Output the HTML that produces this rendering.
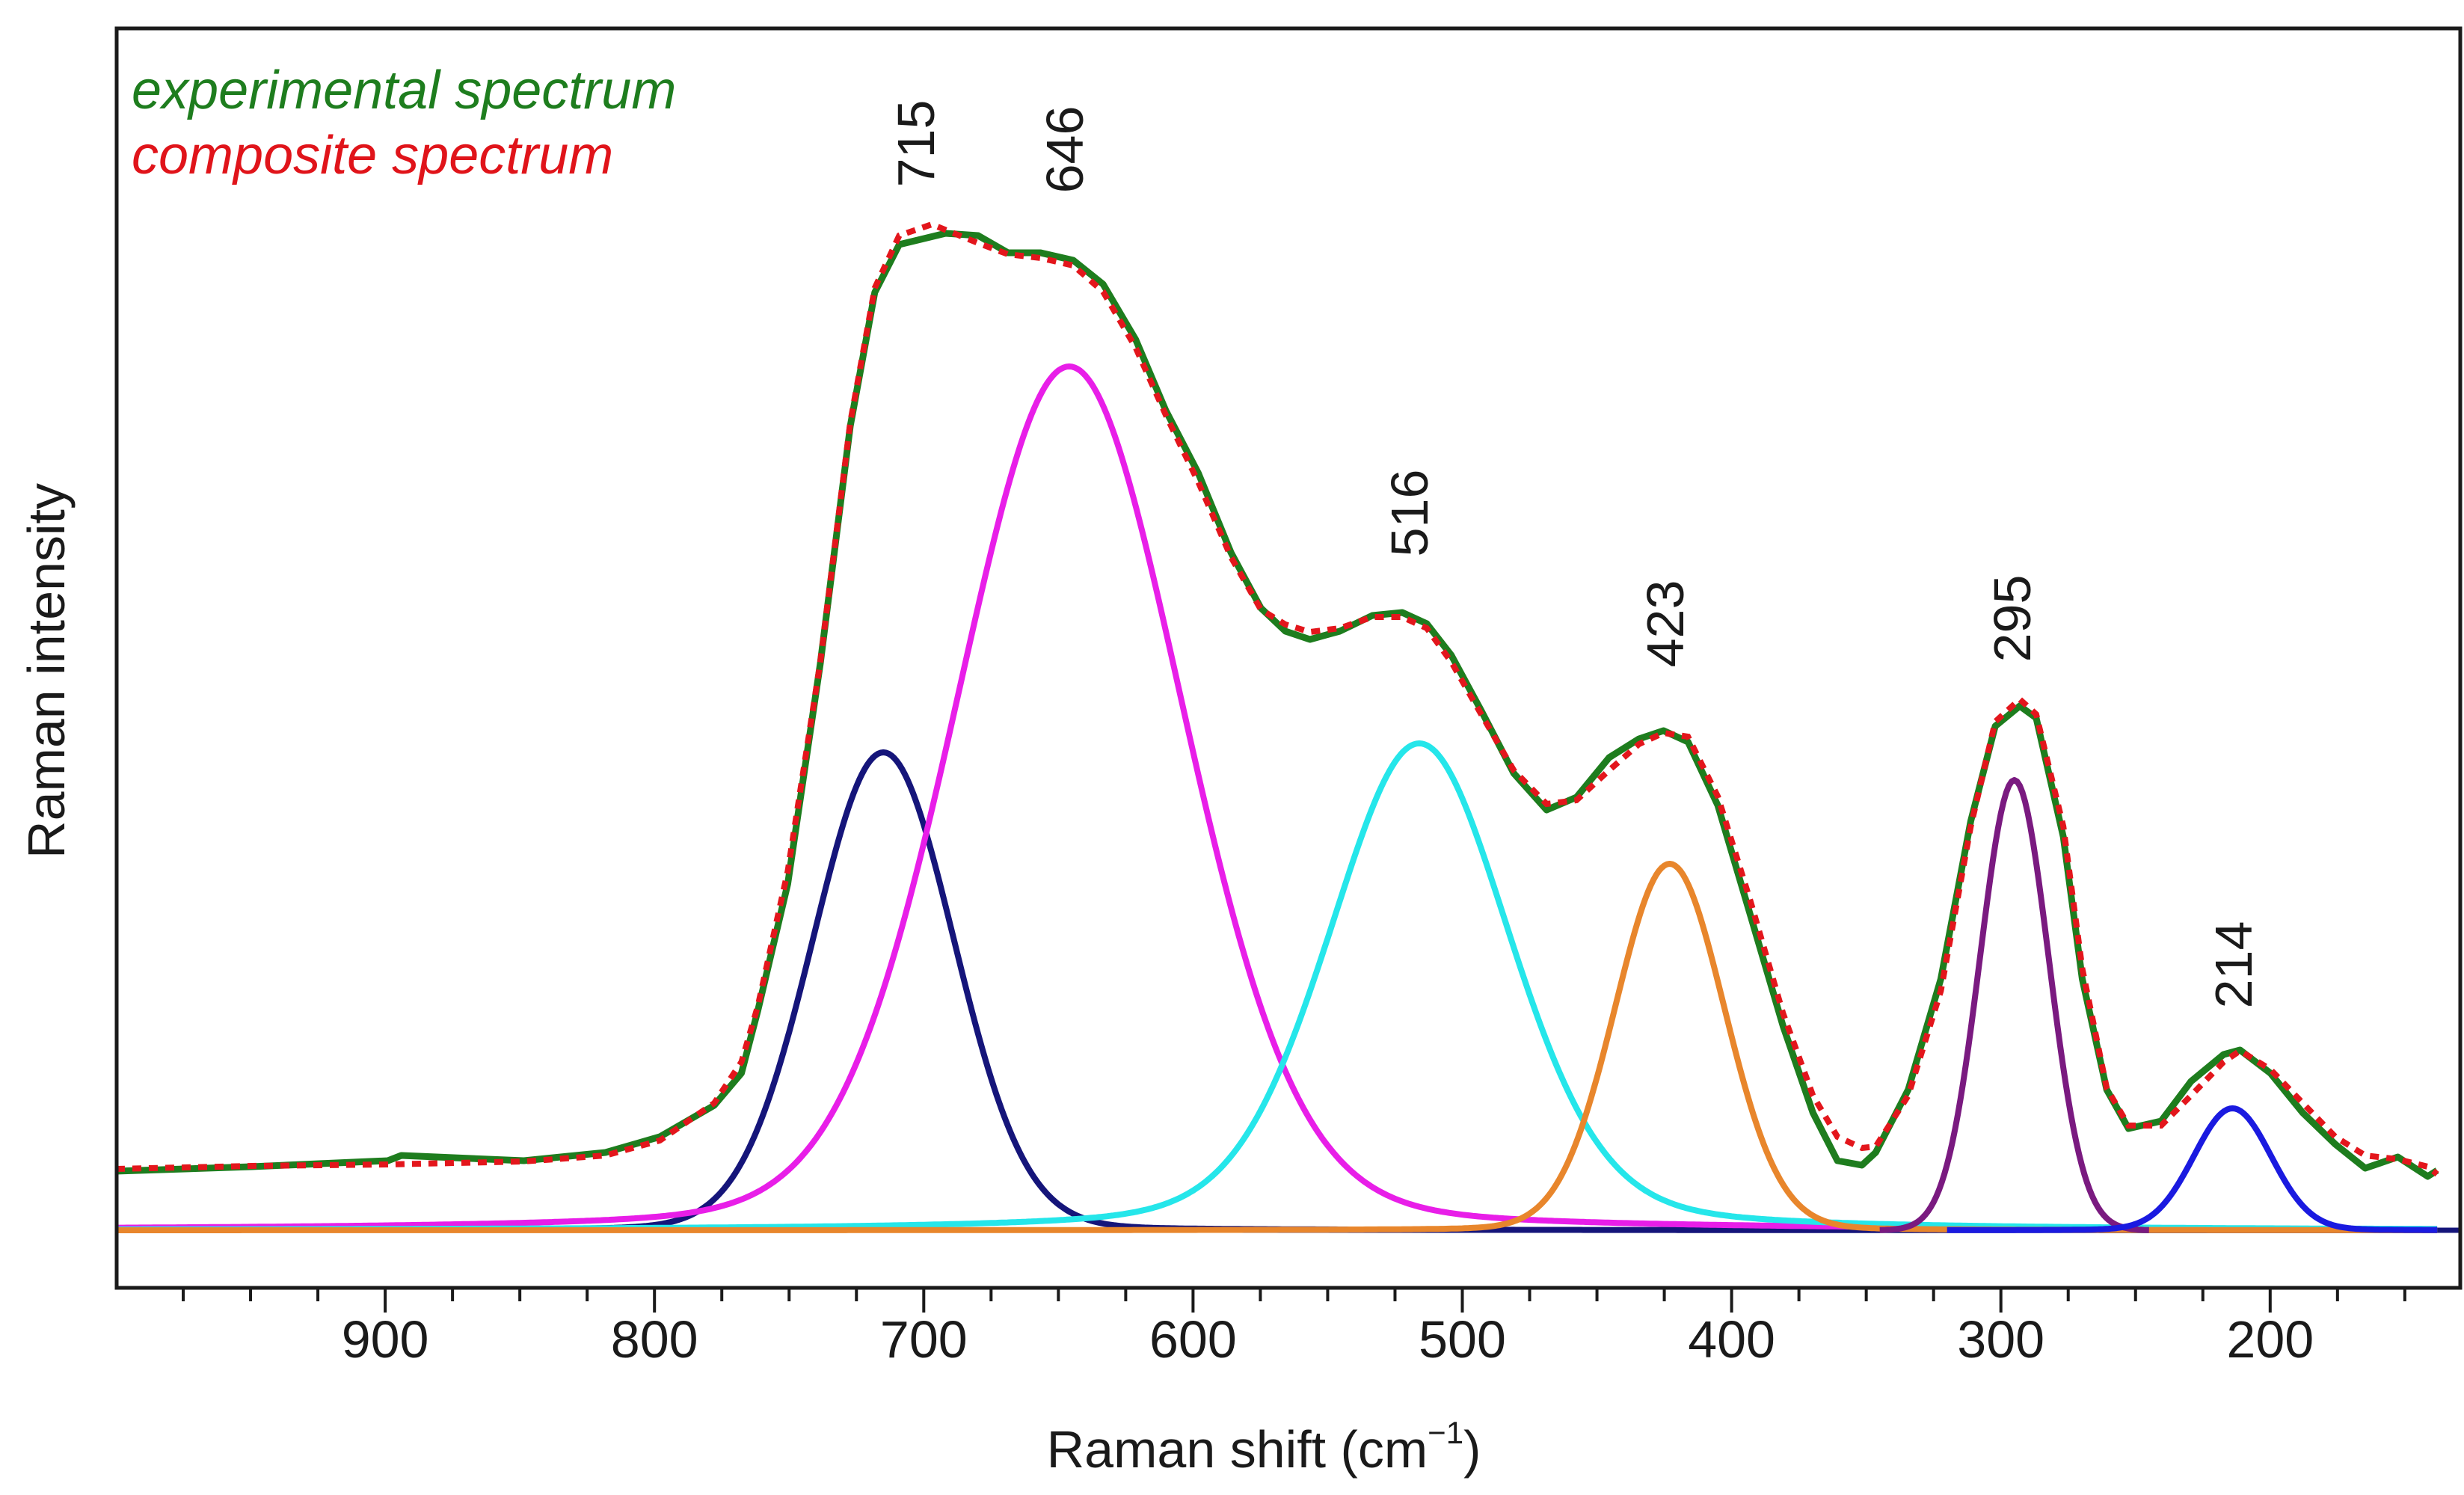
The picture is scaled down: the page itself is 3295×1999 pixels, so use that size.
<!DOCTYPE html>
<html><head><meta charset="utf-8"><style>
html,body{margin:0;padding:0;background:#fff;}
svg{display:block;font-family:"Liberation Sans",sans-serif;}
</style></head><body>
<svg id="chart" width="3295" height="1999" viewBox="0 0 3295 1999">
<rect x="0" y="0" width="3295" height="1999" fill="#fff"/>
<g id="series"></g>
<rect x="156" y="38" width="3134" height="1684" fill="none" stroke="#1a1a1a" stroke-width="5"/>
<g id="ticks"></g>
<text x="1690" y="1962" font-size="70" text-anchor="middle" fill="#1a1a1a">Raman shift (cm<tspan font-size="42" dy="-32">−1</tspan><tspan dy="32">)</tspan></text>
<text transform="translate(86,897) rotate(-90)" font-size="70" text-anchor="middle" fill="#1a1a1a">Raman intensity</text>
<text x="176" y="145" font-size="72" font-style="italic" fill="#1e7d1e">experimental spectrum</text>
<text x="176" y="232" font-size="72" font-style="italic" fill="#e0141a">composite spectrum</text>
<g id="labels"></g>
</svg>
<script>
const xTicks=[900,800,700,600,500,400,300,200];
const peakCenters=[715,646,516,423,295,214];
const peakHeights=[639,1155,651,490,602,163];
const peakWidths=[62,100,80,48,30,34];
const peakEta=[0.05,0.15,0.25,0.05,0.0,0.05];
const peakColors=['#15157a','#e81ee8','#25e6ea','#e8862c','#7a1a80','#1a1ae0'];
const peakNames=['peak-715','peak-646','peak-516','peak-423','peak-295','peak-214'];
const peakRanges=[[1000,138],[1000,138],[1000,138],[1000,138],[345,245],[320,138]];
const labelText=['715','646','516','423','295','214'];
const labelPos=[[1224,192],[1423,200],[1884,686],[2226,834],[2690,827],[2986,1290]];
const expX=[1000,949.5,899,894,848.5,818.2,798,777.8,767.7,761.6,750.5,738.4,727.3,718.2,709.1,691.9,679.8,668.7,656.6,644.5,633.4,621.3,610.1,598,585.9,574.8,565.7,556.6,545.5,533.4,522.3,513.2,504.1,493,480.9,468.7,457.6,445.5,434.4,425.3,416.2,405.1,393,380.9,369.8,360.7,351.6,346.5,334.4,322.3,311.2,302.1,293,286.9,276.8,269.8,260.7,252.6,240.5,229.4,217.3,211.2,199.9,187.9,175.8,164.7,152.6,141.5,138];
const expY=[79,85,93,100,93,104,125,167,210,294,463,758,1075,1254,1318,1333,1330,1307,1307,1297,1265,1191,1096,1012,906,832,801,790,801,822,826,811,769,695,611,562,579,632,657,668,653,568,421,273,157,93,87,104,188,336,547,674,701,685,526,336,188,136,146,199,235,241,210,157,115,83,98,72,80];
const compX=[1000,949.5,899,848.5,818.2,798,777.8,767.7,761.6,750.5,738.4,727.3,718.2,709.1,697,679.8,668.7,656.6,644.5,633.4,621.3,610.1,598,585.9,574.8,565.7,556.6,545.5,533.4,522.3,513.2,504.1,493,480.9,468.7,457.6,445.5,434.4,425.3,416.2,405.1,393,380.9,369.8,360.7,351.6,346.5,334.4,322.3,311.2,302.1,293,286.9,276.8,269.8,260.7,252.6,240.5,229.4,217.3,211.2,199.9,187.9,175.8,164.7,152.6,141.5,138];
const compY=[82,86,88,92,100,120,170,225,300,480,760,1080,1260,1330,1345,1320,1305,1300,1290,1255,1180,1090,1000,900,830,810,800,805,820,820,805,760,690,615,570,575,615,650,665,660,580,440,290,180,125,110,112,180,320,540,680,710,690,540,350,190,140,140,180,225,240,215,170,125,100,95,85,75];
const X0=155,PX=3.601,Y0=1645;
const xs=v=>X0+(1000-v)*PX;
const ys=v=>Y0-v;
const NS='http://www.w3.org/2000/svg';
const S=document.getElementById('series'),T=document.getElementById('ticks'),L=document.getElementById('labels');
function mk(tag,attrs,parent){const e=document.createElementNS(NS,tag);for(const k in attrs)e.setAttribute(k,attrs[k]);parent.appendChild(e);return e;}
const bl=mk('line',{x1:158,x2:3288,y1:Y0,y2:Y0,stroke:'#15157a','stroke-width':7},S);


function pv(x,i){const c=peakCenters[i],w=peakWidths[i],e=peakEta[i],d=(x-c)/(w/2);return peakHeights[i]*((1-e)*Math.exp(-Math.LN2*d*d)+e/(1+d*d));}
for(let i=0;i<peakCenters.length;i++){
  let d='';const [a,b]=peakRanges[i];
  for(let x=a;x>=b;x-=1){d+=(d?'L':'M')+xs(x).toFixed(1)+','+ys(pv(x,i)).toFixed(1);}
  const p=mk('path',{d:d,fill:'none',stroke:peakColors[i],'stroke-width':8,'stroke-linejoin':'round'},S);
  
  
}
function line(X,Y){return X.map((x,i)=>(i?'L':'M')+xs(x).toFixed(1)+','+ys(Y[i]).toFixed(1)).join('');}
const ep=mk('path',{d:line(expX,expY),fill:'none',stroke:'#1e7d1e','stroke-width':9,'stroke-linejoin':'round'},S);


const cp=mk('path',{d:line(compX,compY),fill:'none',stroke:'#e3161c','stroke-width':8,'stroke-dasharray':'12 10'},S);


for(let v=975;v>=140;v-=25){
  const major=v%100===0;
  const t=mk('line',{x1:xs(v),x2:xs(v),y1:1722,y2:major?1755:1740,stroke:'#1a1a1a','stroke-width':4},T);
  
  
}
xTicks.forEach(v=>{
  const t=mk('text',{x:xs(v),y:1815,'font-size':70,'text-anchor':'middle',fill:'#1a1a1a'},T);
  t.textContent=v;
  
  
});
labelText.forEach((s,i)=>{
  const [x,y]=labelPos[i];
  const t=mk('text',{transform:`translate(${x+25},${y}) rotate(-90)`,'font-size':70,'text-anchor':'middle',fill:'#1a1a1a'},L);
  t.textContent=s;
  
  
});
</script>
</body></html>
